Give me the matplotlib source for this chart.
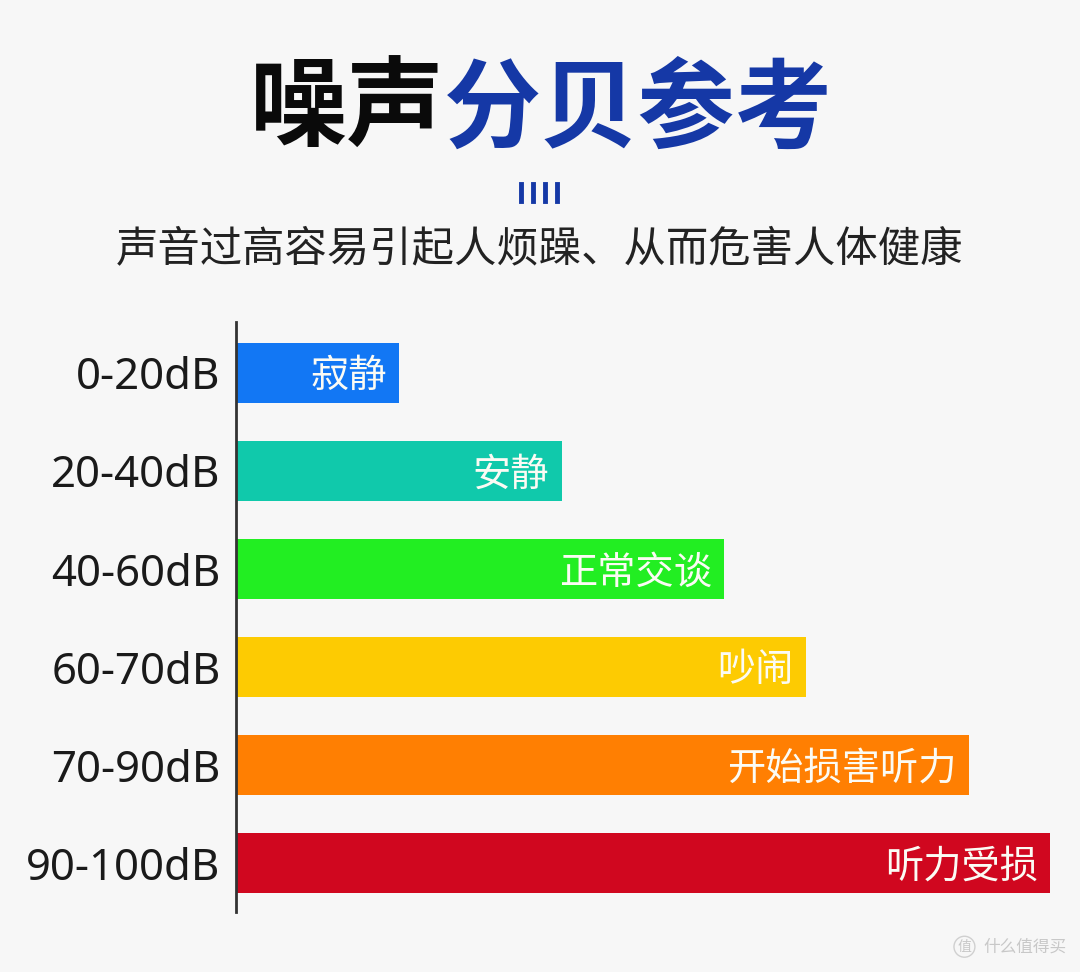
"""
Noise level reference chart: horizontal bars of decibel ranges.
"""

import matplotlib.pyplot as plt
from matplotlib.lines import Line2D

RANGES = ['0-20dB', '20-40dB', '40-60dB', '60-70dB', '70-90dB', '90-100dB']
UPPER_DB = [20, 40, 60, 70, 90, 100]
EFFECTS = ['寂静', '安静', '正常交谈', '吵闹', '开始损害听力', '听力受损']
COLORS = ['#1277f4', '#10c9ab', '#22ee22', '#fdcb02', '#ff7f02', '#d0071f']

BG = '#f7f7f7'
BLUE = '#1538a6'
CJK = ['Noto Sans CJK SC', 'DejaVu Sans']


def main():

    fig = plt.figure(figsize=(10.8, 9.72), dpi=100, facecolor=BG)
    ax = fig.add_axes([0.2185, 0.0617, 0.7537, 0.607], facecolor=BG)

    ypos = list(range(len(RANGES)))
    ax.barh(ypos, UPPER_DB, height=0.61, color=COLORS)

    for y, value, text in zip(ypos, UPPER_DB, EFFECTS):
        ax.text(value - 1.5, y + 0.04, text, ha='right', va='center',
                color='#fbfbf4', fontsize=27.5, family=CJK)

    ax.set_xlim(0, 100)
    ax.set_ylim(5.5, -0.52)
    ax.set_yticks(ypos)
    ax.set_yticklabels(RANGES, family=['Noto Sans', 'DejaVu Sans'],
                       fontsize=31.5, color='#1a1a1a')
    ax.tick_params(axis='y', length=0, pad=11)
    ax.set_xticks([])
    for side in ['top', 'right', 'bottom']:
        ax.spines[side].set_visible(False)
    ax.spines['left'].set_color('#333333')
    ax.spines['left'].set_linewidth(2)

    # Title, split in two colours.
    fig.text(0.411, 0.886, '噪声', ha='right', va='center', fontsize=70,
             fontweight='heavy', color='#0a0a0a', family=CJK)
    fig.text(0.411, 0.886, '分贝参考', ha='left', va='center', fontsize=70,
             fontweight='heavy', color=BLUE, family=CJK)

    # Small decorative marks under the title.
    for x_px in [521, 533, 545, 557]:
        x = x_px / 1080
        fig.add_artist(Line2D([x, x], [1 - 184 / 972, 1 - 201 / 972],
                              color=BLUE, linewidth=3.5,
                              transform=fig.transFigure))

    fig.text(0.5, 1 - 249 / 972, '声音过高容易引起人烦躁、从而危害人体健康',
             ha='center', va='center', fontsize=30.5, color='#222222',
             family=CJK)

    # Watermark.
    fig.text(0.893, 0.026, '值', ha='center', va='center', fontsize=10,
             color='#c8c8c8', family=CJK,
             bbox=dict(boxstyle='circle,pad=0.25', fc='none', ec='#d0d0d0'))
    fig.text(0.911, 0.026, '什么值得买', ha='left', va='center', fontsize=12,
             color='#c8c8c8', family=CJK)

    fig.savefig('out.png', dpi=100, facecolor=BG)


if __name__ == '__main__':
    main()
